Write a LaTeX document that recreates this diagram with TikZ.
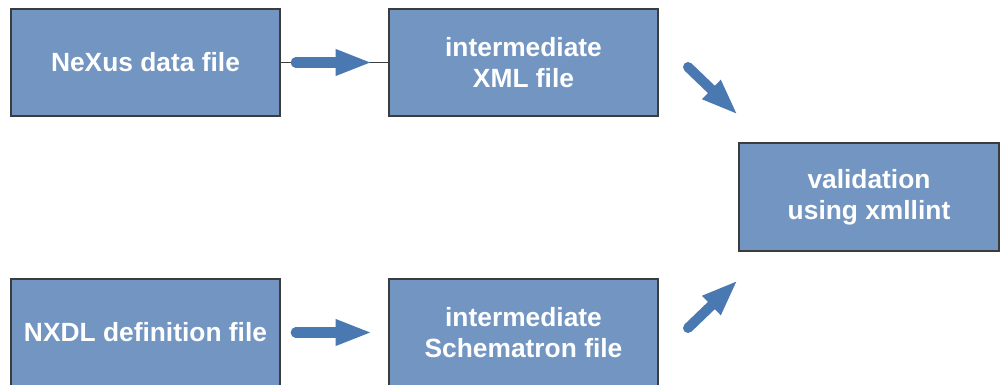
\documentclass[tikz,border=0pt]{standalone}
\usepackage{fontspec}
\setmainfont{Liberation Sans}
\usetikzlibrary{arrows.meta}
\definecolor{boxblue}{RGB}{114,149,193}
\definecolor{arrowblue}{RGB}{74,120,176}
\definecolor{edgegray}{RGB}{60,60,60}
\tikzset{
  stagebox/.style={draw=edgegray, line width=0.85pt, fill=boxblue, text=white,
    minimum width=5.38cm, minimum height=2.14cm, align=center,
    font=\fontsize{15}{17.6}\selectfont\bfseries},
  bigarrow/.style={draw=arrowblue, line width=5.7pt, line cap=round,
    -{Triangle[length=21pt, width=13.6pt]}}
}
\begin{document}
\begin{tikzpicture}[x=0.02cm, y=-0.02cm]
\useasboundingbox (0,0) rectangle (1000,385);
\clip (0,0) rectangle (1000,385);
\node[stagebox] (nexus) at (145.5,62.5) {NeXus data file};
\node[stagebox] (xml) at (523.5,62.5) {intermediate\\XML file};
\node[stagebox, minimum width=5.2cm, minimum height=2.16cm] (valid) at (869,197) {validation\\using xmllint};
\node[stagebox] (nxdl) at (145.5,332.5) {NXDL definition file};
\node[stagebox] (schema) at (523.5,332.5) {intermediate\\Schematron file};
\coordinate (xmlout) at (688,67);
\coordinate (validin) at (738,115);
\coordinate (schemaout) at (688,328);
\coordinate (validin2) at (738,280);
\draw[edgegray, line width=0.6pt] (nexus) -- (xml);
\draw[bigarrow, shorten <=8.5pt, shorten >=9pt] (nexus) -- (xml);
\draw[bigarrow, shorten <=8.5pt, shorten >=9pt] (nxdl) -- (schema);
\draw[bigarrow] (xmlout) -- (validin);
\draw[bigarrow] (schemaout) -- (validin2);
\end{tikzpicture}
\end{document}
